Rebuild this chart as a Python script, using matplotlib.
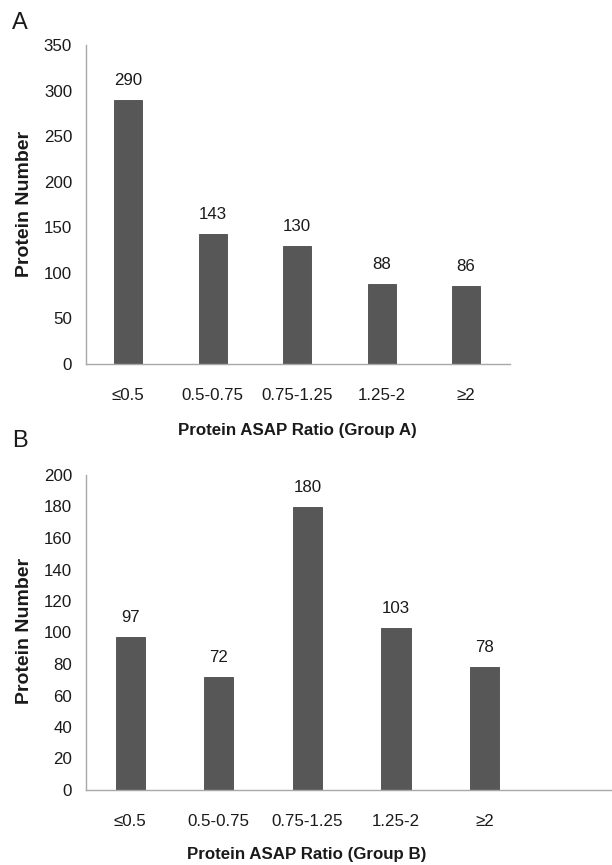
import matplotlib
matplotlib.use("Agg")
import matplotlib.pyplot as plt

plt.rcParams['font.family'] = ['Liberation Sans', 'DejaVu Sans']

categories = ["≤0.5", "0.5-0.75", "0.75-1.25", "1.25-2", "≥2"]
group_a = [290, 143, 130, 88, 86]
group_b = [97, 72, 180, 103, 78]
yticks_a = [0, 50, 100, 150, 200, 250, 300, 350]
yticks_b = [0, 20, 40, 60, 80, 100, 120, 140, 160, 180, 200]

W, H = 612, 865
fig = plt.figure(figsize=(W / 100, H / 100), dpi=100)

BAR_COLOR = "#575757"
SPINE_COLOR = "#a8a8a8"
TEXT_COLOR = "#1a1a1a"
FS = 12.2


def fx(px):
    return px / W


def fy(py):
    return 1 - py / H


def panel(left, right, top, bottom, values, yticks, xmax, xlabel_text,
          xlabel_pos, ylabel_pos, letter, letter_pos):
    ax = fig.add_axes([fx(left), fy(bottom), fx(right - left), (bottom - top) / H])
    x = list(range(len(categories)))
    bars = ax.bar(x, values, width=0.33, color=BAR_COLOR, edgecolor="#4a4a4a",
                  linewidth=0.6, zorder=2)
    for rect, v in zip(bars, values):
        ax.annotate(str(v), (rect.get_x() + rect.get_width() / 2, v),
                    xytext=(0, 14), textcoords="offset points",
                    ha="center", va="center", fontsize=FS, color=TEXT_COLOR)
    ax.set_xlim(-0.5, xmax)
    ax.set_ylim(yticks[0], yticks[-1])
    ax.set_yticks(yticks)
    ax.set_xticks(x)
    ax.set_xticklabels(categories)
    ax.tick_params(axis="both", length=0, labelsize=FS, colors=TEXT_COLOR)
    ax.tick_params(axis="y", pad=10)
    ax.tick_params(axis="x", pad=17)
    for s in ["top", "right"]:
        ax.spines[s].set_visible(False)
    for s in ["left", "bottom"]:
        ax.spines[s].set_color(SPINE_COLOR)
        ax.spines[s].set_linewidth(1.0)
    ax.set_facecolor("none")
    fig.text(fx(xlabel_pos[0]), fy(xlabel_pos[1]), xlabel_text, ha="center",
             va="center", fontsize=FS, fontweight="bold", color=TEXT_COLOR)
    fig.text(fx(ylabel_pos[0]), fy(ylabel_pos[1]), "Protein Number", ha="center",
             va="center", rotation=90, fontsize=14, fontweight="bold",
             color=TEXT_COLOR)
    fig.text(fx(letter_pos[0]), fy(letter_pos[1]), letter, ha="left",
             va="center", fontsize=17, color=TEXT_COLOR)
    return ax


panel(86, 510, 45, 364, group_a, yticks_a, 4.52,
      "Protein ASAP Ratio (Group A)", (297, 430), (25, 204), "A", (12, 23))
panel(86, 612, 475, 790, group_b, yticks_b, 5.44,
      "Protein ASAP Ratio (Group B)", (307, 855), (25, 631), "B", (12, 441))

fig.savefig("out.png", dpi=100)
